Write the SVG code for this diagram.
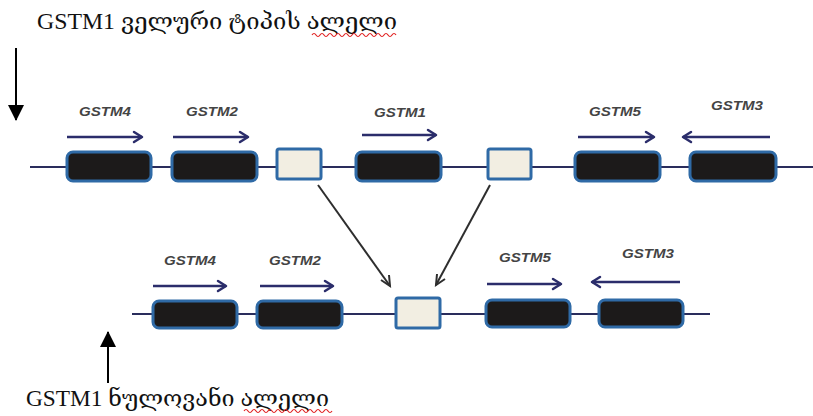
<svg xmlns="http://www.w3.org/2000/svg" width="813" height="416" viewBox="0 0 813 416">
<style>
.title{font-family:"Liberation Serif","DejaVu Serif",serif;font-size:23px;fill:#111}
.lbl{font-family:"Liberation Sans","DejaVu Sans",sans-serif;font-size:13px;font-weight:bold;font-style:italic;fill:#444;text-anchor:middle}
.dna{stroke:#2a2d5c;stroke-width:2;fill:none}
.gene{fill:#1c1a1a;stroke:#2f6aa6;stroke-width:3}
.pseudo{fill:#f2eee2;stroke:#2f6aa6;stroke-width:3}
.dir{stroke:#2b2d6b;stroke-width:2.5;fill:none}
.head{stroke:#2b2d6b;stroke-width:2.5;fill:none;stroke-linecap:round;stroke-linejoin:round}
.del{stroke:#2e2e2e;stroke-width:2;fill:none}
.squig{stroke:#e02020;stroke-width:1.2;fill:none}
</style>
<defs>
<marker id="solid" viewBox="0 0 16 18" refX="15" refY="9" markerWidth="16" markerHeight="18" markerUnits="userSpaceOnUse" orient="auto">
<path d="M0,1 L16,9 L0,17 Z" fill="#000"/>
</marker>
</defs>

<g id="title-wild">
<text class="title" x="37" y="29" textLength="360" lengthAdjust="spacingAndGlyphs">GSTM1 ველური ტიპის ალელი</text>
<path class="squig" d="M312,35 q2,-3 4,0 t4,0 t4,0 t4,0 t4,0 t4,0 t4,0 t4,0 t4,0 t4,0 t4,0 t4,0 t4,0 t4,0 t4,0 t4,0 t4,0 t4,0 t4,0 t4,0 t4,0"/>
</g>
<g id="title-null">
<text class="title" x="26" y="406" textLength="303" lengthAdjust="spacingAndGlyphs">GSTM1 ნულოვანი ალელი</text>
<path class="squig" d="M244,411 q2,-3 4,0 t4,0 t4,0 t4,0 t4,0 t4,0 t4,0 t4,0 t4,0 t4,0 t4,0 t4,0 t4,0 t4,0 t4,0 t4,0 t4,0 t4,0 t4,0 t4,0 t4,0 t4,0"/>
</g>

<g id="pointers">
<line x1="16" y1="48" x2="16" y2="120" stroke="#000" stroke-width="2" marker-end="url(#solid)"/>
<line x1="108" y1="383" x2="108" y2="332" stroke="#000" stroke-width="2" marker-end="url(#solid)"/>
</g>

<g id="connectors">
<line class="dna" x1="30" y1="167" x2="813" y2="167"/>
<line class="dna" x1="132" y1="314" x2="710" y2="314"/>
<line class="del" x1="318" y1="185" x2="390" y2="286"/>
<line class="del" x1="490" y1="185" x2="436" y2="285"/>
<path d="M381,280 L390,286 L389,275" class="del"/>
<path d="M437,274 L436,285 L445,279" class="del"/>
</g>

<g id="top-GSTM4">
<rect class="gene" x="67" y="152" width="84" height="29" rx="6"/>
<text class="lbl" x="105" y="116" textLength="52" lengthAdjust="spacingAndGlyphs">GSTM4</text>
<line class="dir" x1="67" y1="137" x2="142" y2="137"/>
<path class="head" d="M134,132 L142,137 L134,142"/>
</g>
<g id="top-GSTM2">
<rect class="gene" x="172" y="152" width="85" height="29" rx="6"/>
<text class="lbl" x="212" y="116" textLength="52" lengthAdjust="spacingAndGlyphs">GSTM2</text>
<line class="dir" x1="173" y1="137" x2="248" y2="137"/>
<path class="head" d="M240,132 L248,137 L240,142"/>
</g>
<g id="top-repeat1">
<rect class="pseudo" x="277" y="149" width="44" height="30" rx="2"/>
</g>
<g id="top-GSTM1">
<rect class="gene" x="356" y="152" width="85" height="29" rx="6"/>
<text class="lbl" x="400" y="117" textLength="52" lengthAdjust="spacingAndGlyphs">GSTM1</text>
<line class="dir" x1="362" y1="135" x2="436" y2="135"/>
<path class="head" d="M428,130 L436,135 L428,140"/>
</g>
<g id="top-repeat2">
<rect class="pseudo" x="488" y="149" width="43" height="30" rx="2"/>
</g>
<g id="top-GSTM5">
<rect class="gene" x="575" y="152" width="85" height="29" rx="6"/>
<text class="lbl" x="615" y="116" textLength="52" lengthAdjust="spacingAndGlyphs">GSTM5</text>
<line class="dir" x1="578" y1="137" x2="654" y2="137"/>
<path class="head" d="M646,132 L654,137 L646,142"/>
</g>
<g id="top-GSTM3">
<rect class="gene" x="690" y="152" width="86" height="29" rx="6"/>
<text class="lbl" x="737" y="110" textLength="52" lengthAdjust="spacingAndGlyphs">GSTM3</text>
<line class="dir" x1="683" y1="137" x2="770" y2="137"/>
<path class="head" d="M691,132 L683,137 L691,142"/>
</g>

<g id="bot-GSTM4">
<rect class="gene" x="153" y="301" width="84" height="27" rx="6"/>
<text class="lbl" x="190" y="265" textLength="52" lengthAdjust="spacingAndGlyphs">GSTM4</text>
<line class="dir" x1="153" y1="286" x2="226" y2="286"/>
<path class="head" d="M218,281 L226,286 L218,291"/>
</g>
<g id="bot-GSTM2">
<rect class="gene" x="257" y="301" width="85" height="27" rx="6"/>
<text class="lbl" x="295" y="265" textLength="52" lengthAdjust="spacingAndGlyphs">GSTM2</text>
<line class="dir" x1="260" y1="286" x2="333" y2="286"/>
<path class="head" d="M325,281 L333,286 L325,291"/>
</g>
<g id="bot-repeat">
<rect class="pseudo" x="396" y="298" width="44" height="30" rx="2"/>
</g>
<g id="bot-GSTM5">
<rect class="gene" x="486" y="300" width="84" height="27" rx="6"/>
<text class="lbl" x="525" y="262" textLength="52" lengthAdjust="spacingAndGlyphs">GSTM5</text>
<line class="dir" x1="487" y1="284" x2="561" y2="284"/>
<path class="head" d="M553,279 L561,284 L553,289"/>
</g>
<g id="bot-GSTM3">
<rect class="gene" x="599" y="300" width="84" height="27" rx="6"/>
<text class="lbl" x="648" y="258" textLength="52" lengthAdjust="spacingAndGlyphs">GSTM3</text>
<line class="dir" x1="592" y1="282" x2="680" y2="282"/>
<path class="head" d="M600,277 L592,282 L600,287"/>
</g>
</svg>
